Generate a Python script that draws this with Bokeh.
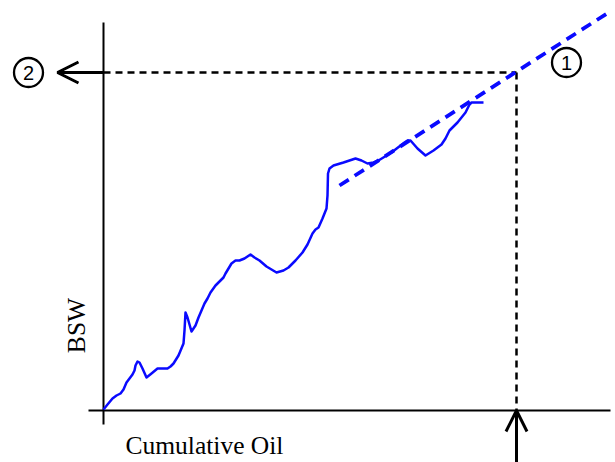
import math
from bokeh.plotting import figure
from bokeh.models import Range1d, Label, Arrow, OpenHead
from bokeh.core.properties import value
from bokeh.embed import file_html
from bokeh.resources import INLINE

# Production history (arbitrary units): cumulative oil vs BSW
cum_oil = [0, 4, 9, 13, 17, 20, 23, 26, 29, 31, 32, 34, 36, 39, 43, 48, 54, 58,
           64, 67, 70, 75, 80, 81, 82, 84, 88, 92, 95, 98, 101, 104, 107, 112,
           117, 120, 122, 125, 128, 132, 136, 141, 147, 151, 156, 163, 173,
           180, 185, 192, 199, 204, 209, 212, 215, 219, 223, 224, 224.5, 226,
           230, 240, 252, 258, 264, 270, 275, 288, 301, 304, 307, 314, 322,
           330, 338, 342, 346, 354, 362, 366, 368, 374, 380]
bsw = [1, 6, 12, 15, 17, 21, 28, 32, 36, 40, 45, 49, 48, 42, 33, 37, 42, 42,
       42, 44, 47, 55, 67, 80, 98, 93, 79, 85, 93, 100, 107, 112, 118, 125,
       130, 133, 137, 142, 147, 150, 150, 152, 156, 153, 150, 144, 138,
       140, 143, 150, 158, 166, 177, 181, 183, 192, 202, 215, 237, 242,
       245, 248, 252, 250, 247, 248, 250, 258, 268, 270, 270, 262, 255,
       260, 266, 272, 280, 288, 298, 306, 308, 308, 308]

# Extrapolated trend line (dashed blue)
trend_x = [236, 505]
trend_y = [225, 398]

# Read-off point where the trend reaches the economic limit
cross_x = 413
cross_y = 338

# axis extents
xaxis_x = [-15, 507]
yaxis_y = [-14, 388]

p = figure(width=615, height=462, output_backend="svg", toolbar_location=None,
           x_range=Range1d(-103, 512), y_range=Range1d(-52, 410),
           min_border=0, outline_line_color=None)
p.axis.visible = False
p.grid.visible = False

BLUE = "#0a0aff"

# axes
p.segment(x0=[xaxis_x[0]], y0=[0], x1=[xaxis_x[1]], y1=[0], line_color="black", line_width=2)
p.segment(x0=[0], y0=[yaxis_y[0]], x1=[0], y1=[yaxis_y[1]], line_color="black", line_width=2)

# dashed guides
p.line([0, cross_x], [cross_y, cross_y], line_color="black", line_width=2.5, line_dash="7 5")
p.line([cross_x, cross_x], [cross_y, 0], line_color="black", line_width=2.5, line_dash="7 5")

# trend line
p.line(trend_x, trend_y, line_color=BLUE, line_width=3.8, line_dash="11 7")

# data curve
p.line(cum_oil, bsw, line_color=BLUE, line_width=2.5, line_join="round")

# arrows
p.add_layout(Arrow(end=OpenHead(size=21, line_width=3, line_color="black"),
                   x_start=0, y_start=cross_y, x_end=-46, y_end=cross_y,
                   line_width=3, line_color="black"))
p.add_layout(Arrow(end=OpenHead(size=21, line_width=3, line_color="black"),
                   x_start=cross_x, y_start=-60, x_end=cross_x, y_end=0,
                   line_width=3, line_color="black"))

# circled numbers
cx = [463, -75]
cy = [348, 338]
nums = ["1", "2"]
p.scatter(cx, cy, marker="circle", size=29, fill_color="white",
          line_color="black", line_width=2.3)
p.text(cx, cy, text=nums, text_align="center", text_baseline="middle",
       text_font=value("Liberation Sans"), text_font_size="20px", text_color="black")

p.add_layout(Label(x=22, y=-35, text="Cumulative Oil", text_font="Liberation Serif",
                   text_font_size="25.5px", text_color="black",
                   text_baseline="alphabetic"))
p.add_layout(Label(x=-27, y=85, text="BSW", text_font="Liberation Serif",
                   text_font_size="25.5px", text_color="black", angle=math.pi / 2,
                   text_align="center", text_baseline="alphabetic"))

open("out.html", "w").write(file_html(p, INLINE))
